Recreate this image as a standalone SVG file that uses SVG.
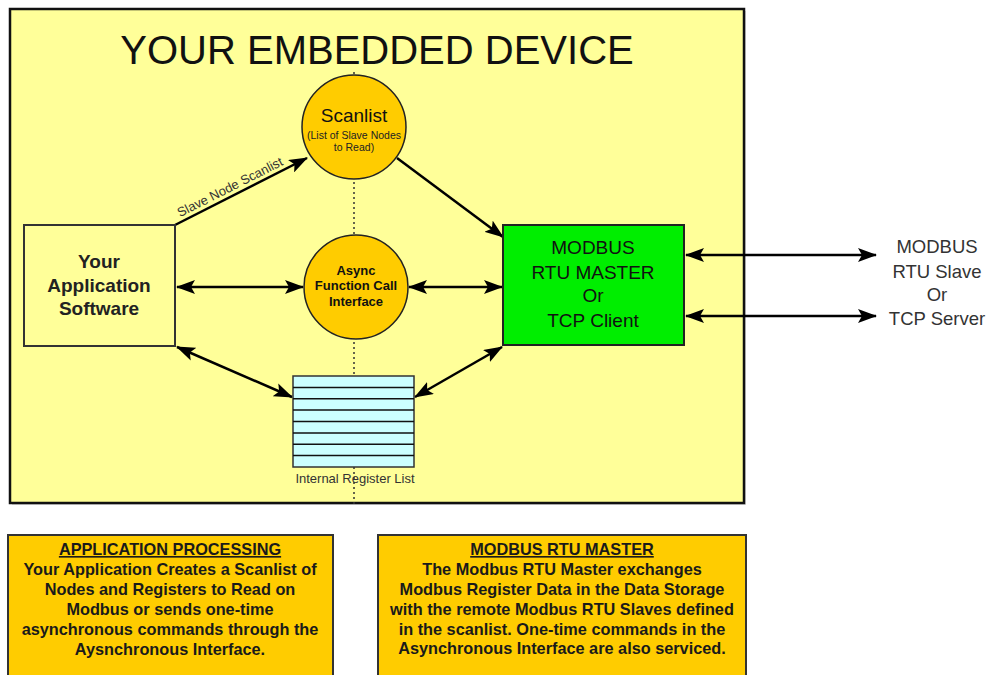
<svg xmlns="http://www.w3.org/2000/svg" width="991" height="675" viewBox="0 0 991 675">
  <style>
    .t { font-family: "Liberation Sans", Arial, sans-serif; }
    .title { font-size: 40px; fill: #111; }
    .node-txt { font-size: 19px; fill: #111; }
    .bold { font-weight: bold; }
    .ext { font-size: 18.5px; fill: #333; }
    .small { font-size: 13px; fill: #333; }
    .note { font-size: 16.3px; font-weight: bold; fill: #1a1a1a; }
    .wire { stroke: #000; stroke-width: 2.5; fill: none; }
    .circle { fill: #FFCC00; stroke: #222; stroke-width: 1.5; }
    .guide { stroke: #333; stroke-width: 1.5; stroke-dasharray: 2 3; fill: none; }
  </style>
  <defs>
    <marker id="head" viewBox="0 0 19 14" refX="18" refY="7" markerWidth="19" markerHeight="14" markerUnits="userSpaceOnUse" orient="auto-start-reverse">
      <path d="M0,0 L19,7 L0,14 L4,7 z" fill="#000"/>
    </marker>
  </defs>

  <rect width="991" height="675" fill="#fff"/>

  <!-- device enclosure -->
  <g id="device">
    <rect x="12" y="11" width="734" height="494" fill="#999" opacity="0.35"/>
    <rect x="10" y="9" width="734" height="494" fill="#FFFF99" stroke="#111" stroke-width="2.5"/>
    <text class="t title" x="377" y="64" text-anchor="middle">YOUR EMBEDDED DEVICE</text>
  </g>

  <!-- dotted centre guide -->
  <line class="guide" x1="354" y1="72" x2="354" y2="506"/>

  <g id="connectors">
    <line class="wire" x1="175" y1="225" x2="307" y2="158" marker-end="url(#head)"/>
    <line class="wire" x1="397" y1="158" x2="503" y2="237" marker-end="url(#head)"/>
    <line class="wire" x1="177" y1="287" x2="303" y2="287" marker-start="url(#head)" marker-end="url(#head)"/>
    <line class="wire" x1="409" y1="287" x2="502" y2="287" marker-start="url(#head)" marker-end="url(#head)"/>
    <line class="wire" x1="177" y1="347" x2="292" y2="397" marker-start="url(#head)" marker-end="url(#head)"/>
    <line class="wire" x1="502" y1="347" x2="415" y2="397" marker-start="url(#head)" marker-end="url(#head)"/>
    <line class="wire" x1="686" y1="255" x2="876" y2="255" marker-start="url(#head)" marker-end="url(#head)"/>
    <line class="wire" x1="686" y1="316" x2="876" y2="316" marker-start="url(#head)" marker-end="url(#head)"/>
    <text class="t" x="232" y="191" font-size="13" fill="#333" text-anchor="middle" transform="rotate(-26.9 232 191)">Slave Node Scanlist</text>
  </g>

  <g id="scanlist">
    <circle class="circle" cx="354" cy="127" r="52"/>
    <text class="t node-txt" x="354" y="122" text-anchor="middle">Scanlist</text>
    <text class="t" x="354" y="139" font-size="10.5" fill="#222" text-anchor="middle">(List of Slave Nodes</text>
    <text class="t" x="354" y="151" font-size="10.5" fill="#222" text-anchor="middle">to Read)</text>
  </g>

  <g id="async-interface">
    <circle class="circle" cx="356" cy="287" r="52"/>
    <text class="t bold" x="356" y="275" font-size="13" fill="#111" text-anchor="middle">Async</text>
    <text class="t bold" x="356" y="290" font-size="13" fill="#111" text-anchor="middle">Function Call</text>
    <text class="t bold" x="356" y="306" font-size="13" fill="#111" text-anchor="middle">Interface</text>
  </g>

  <g id="application">
    <rect x="24" y="225" width="151" height="121" fill="#FFFF99" stroke="#333" stroke-width="2"/>
    <text class="t bold" x="99" y="268" font-size="19" fill="#222" text-anchor="middle">Your</text>
    <text class="t bold" x="99" y="292" font-size="19" fill="#222" text-anchor="middle">Application</text>
    <text class="t bold" x="99" y="315" font-size="19" fill="#222" text-anchor="middle">Software</text>
  </g>

  <g id="modbus-master">
    <rect x="503" y="225" width="181" height="120" fill="#00EE00" stroke="#222" stroke-width="2"/>
    <text class="t node-txt" x="593" y="254" text-anchor="middle">MODBUS</text>
    <text class="t node-txt" x="593" y="279" text-anchor="middle">RTU MASTER</text>
    <text class="t node-txt" x="593" y="302" text-anchor="middle">Or</text>
    <text class="t node-txt" x="593" y="327" text-anchor="middle">TCP Client</text>
  </g>

  <g id="register-list">
    <rect x="293" y="376" width="121" height="91" fill="#CCFFFF" stroke="#333" stroke-width="1.5"/>
    <g stroke="#111" stroke-width="1.5">
      <line x1="293" y1="387.4" x2="414" y2="387.4"/>
      <line x1="293" y1="398.8" x2="414" y2="398.8"/>
      <line x1="293" y1="410.1" x2="414" y2="410.1"/>
      <line x1="293" y1="421.5" x2="414" y2="421.5"/>
      <line x1="293" y1="432.9" x2="414" y2="432.9"/>
      <line x1="293" y1="444.3" x2="414" y2="444.3"/>
      <line x1="293" y1="455.6" x2="414" y2="455.6"/>
    </g>
    <text class="t small" x="355" y="483" text-anchor="middle">Internal Register List</text>
  </g>

  <g id="remote-slave">
    <text class="t ext" x="937" y="253" text-anchor="middle">MODBUS</text>
    <text class="t ext" x="937" y="278" text-anchor="middle">RTU Slave</text>
    <text class="t ext" x="937" y="301" text-anchor="middle">Or</text>
    <text class="t ext" x="937" y="325" text-anchor="middle">TCP Server</text>
  </g>

  <g id="note-application">
    <rect x="8" y="535" width="325" height="160" fill="#FFCC00" stroke="#333" stroke-width="2"/>
    <text class="t note" x="170" y="555" text-anchor="middle" text-decoration="underline">APPLICATION PROCESSING</text>
    <text class="t note" x="170" y="575" text-anchor="middle">Your Application Creates a Scanlist of</text>
    <text class="t note" x="170" y="595" text-anchor="middle">Nodes and Registers to Read on</text>
    <text class="t note" x="170" y="615" text-anchor="middle">Modbus or sends one-time</text>
    <text class="t note" x="170" y="635" text-anchor="middle">asynchronous commands through the</text>
    <text class="t note" x="170" y="655" text-anchor="middle">Aysnchronous Interface.</text>
  </g>

  <g id="note-master">
    <rect x="378" y="535" width="368" height="160" fill="#FFCC00" stroke="#333" stroke-width="2"/>
    <text class="t note" x="562" y="555" text-anchor="middle" text-decoration="underline">MODBUS RTU MASTER</text>
    <text class="t note" x="562" y="575" text-anchor="middle">The Modbus RTU Master exchanges</text>
    <text class="t note" x="562" y="595" text-anchor="middle">Modbus Register Data in the Data Storage</text>
    <text class="t note" x="562" y="615" text-anchor="middle">with the remote Modbus RTU Slaves defined</text>
    <text class="t note" x="562" y="635" text-anchor="middle">in the scanlist. One-time commands in the</text>
    <text class="t note" x="562" y="654" text-anchor="middle">Asynchronous Interface are also serviced.</text>
  </g>
</svg>
